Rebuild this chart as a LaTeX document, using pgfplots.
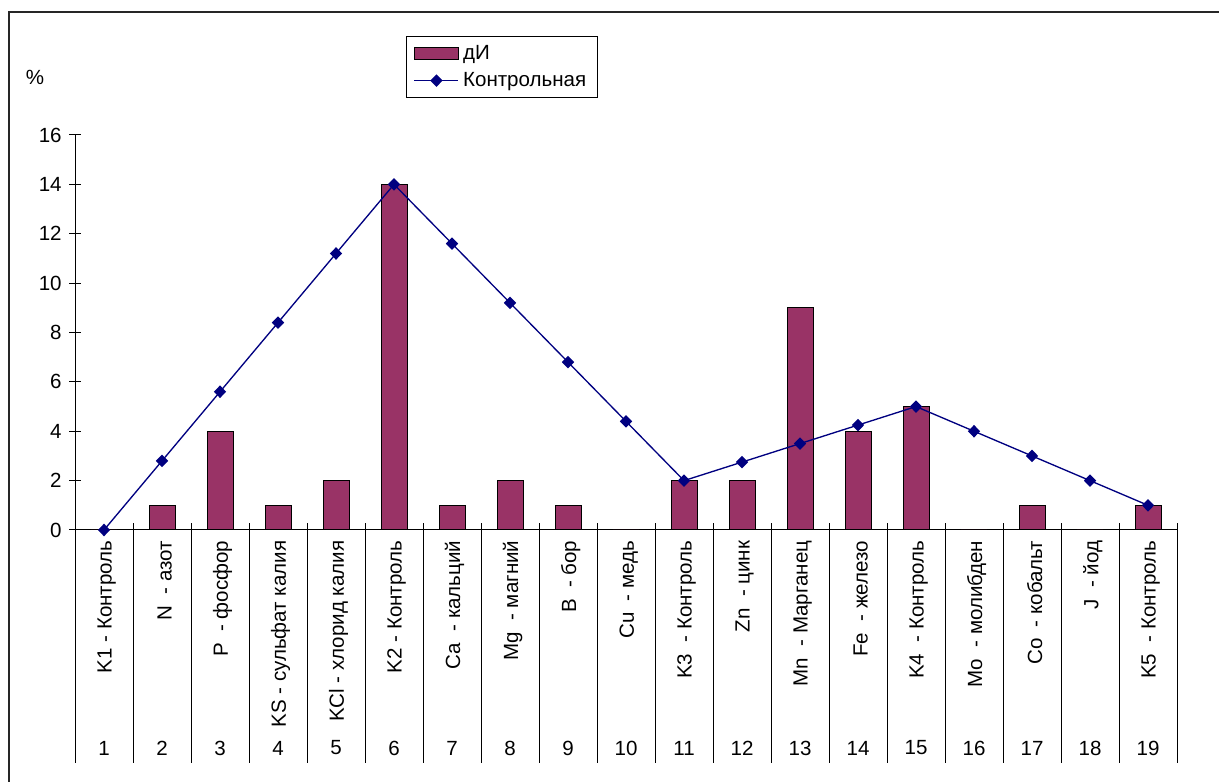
\documentclass[border=0pt]{standalone}
\usepackage{fontspec}
\setmainfont{Liberation Sans}
\usepackage{pgfplots}
\pgfplotsset{compat=1.18}

\definecolor{barcol}{HTML}{993366}
\definecolor{linecol}{HTML}{000080}

\newcommand{\chartfont}{\fontsize{15.4}{17.5}\selectfont}

\pgfplotsset{
  bar legend/.style={legend image code/.code={\draw[fill=barcol,draw=black,line width=0.75pt]
    (0pt,-4.5pt) rectangle (33pt,4.5pt);}},
  marked line legend/.style={legend image code/.code={\draw[mark repeat=2,mark phase=2,##1]
    plot coordinates {(0pt,0pt) (16.5pt,0pt) (33pt,0pt)};}},
}

\begin{document}
\begin{tikzpicture}[x=0.75pt,y=0.75pt]
\useasboundingbox (0,0) rectangle (1219,781);
\clip (0,0) rectangle (1219,781);
% outer chart frame
\draw[line width=1.2pt,black!85] (9,769) rectangle (1240,-20);
% unit of the value axis
\node[font=\chartfont] at (35,704) {\%};

\begin{axis}[
  at={(56.25pt,188.25pt)}, anchor=south west,
  scale only axis, width=826.5pt, height=296.25pt,
  xmin=0.5, xmax=19.5, ymin=0, ymax=16,
  axis x line=bottom, axis y line=left,
  axis line style={-, line width=0.75pt},
  clip=false,
  ytick={0,2,...,16},
  major tick length=9pt, tick align=center,
  ytick style={line width=0.75pt, black},
  yticklabel style={font=\chartfont, xshift=-2pt,
    /pgf/number format/assume math mode=true},
  xtick={1,...,19},
  xtick style={draw=none},
  xticklabels={K1 - Контроль, N\ \ - азот, P\ \ - фосфор, KS - сульфат калия,
    KCl - хлорид калия, K2 - Контроль, Ca\ \ - кальций, Mg\ \ - магний,
    B\ \ - бор, Cu\ \ - медь, K3\ \ - Контроль, Zn\ \ - цинк,
    Mn\ \ - Марганец, Fe\ \ - железо, K4\ \ - Контроль, Mo\ \ - молибден,
    Co\ \ - кобальт, J\ \ - йод, K5\ \ - Контроль},
  xticklabel style={font=\chartfont, rotate=90, anchor=east, yshift=-2pt},
  legend style={at={(rel axis cs:0.3004,1.2506)}, anchor=north west,
    draw=black, line width=0.6pt, fill=white, font=\chartfont,
    row sep=4.5pt, inner xsep=5.5pt, inner ysep=4.5pt,
    nodes={inner xsep=3pt}},
  legend cell align=left,
]
\addplot[ybar, bar width=19.5pt, fill=barcol, draw=black, line width=0.75pt, bar legend]
  coordinates {
  (1,0) (2,1) (3,4) (4,1) (5,2) (6,14) (7,1) (8,2) (9,1) (10,0)
  (11,2) (12,2) (13,9) (14,4) (15,5) (16,0) (17,1) (18,0) (19,1)
  };
\addlegendentry{дИ}

\addplot[color=linecol, line width=1pt, mark=diamond*, mark size=4pt,
  mark options={xscale=1.3, fill=linecol}, marked line legend]
  coordinates {
  (1,0) (2,2.8) (3,5.6) (4,8.4) (5,11.2) (6,14) (7,11.6) (8,9.2)
  (9,6.8) (10,4.4) (11,2) (12,2.75) (13,3.5) (14,4.25) (15,5)
  (16,4) (17,3) (18,2) (19,1)
  };
\addlegendentry{Контрольная}

% category separators, running down through the label area
\pgfplotsinvokeforeach{0,...,19}{
  \draw[line width=0.75pt] (axis cs:#1+0.5,0.28) -- (axis cs:#1+0.5,-9.44);
}
% category numbers below the names
\pgfplotsinvokeforeach{1,...,19}{
  \node[font=\chartfont] at (axis cs:#1,-8.83) {#1};
}
\end{axis}
\end{tikzpicture}
\end{document}
